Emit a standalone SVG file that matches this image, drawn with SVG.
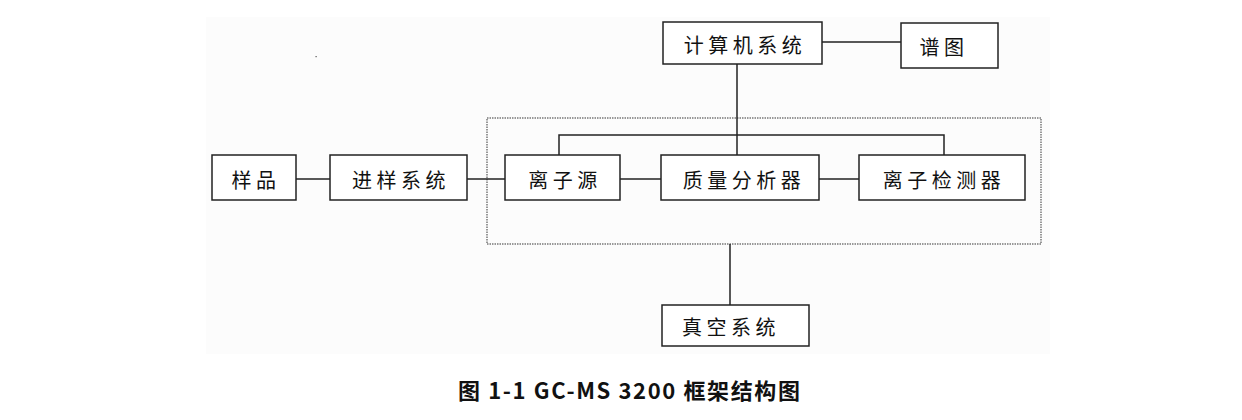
<svg xmlns="http://www.w3.org/2000/svg" width="1242" height="420" viewBox="0 0 1242 420">
<style>
.box{fill:#ffffff;stroke:#222;stroke-width:1.5}
.lbl{font-family:"Noto Sans CJK SC","Noto Sans",sans-serif;font-size:20px;fill:#111;text-anchor:middle;dominant-baseline:central;letter-spacing:4.5px}
.ln{stroke:#222;stroke-width:1.5;fill:none}
.cap{font-family:"Noto Sans CJK SC","DejaVu Sans",sans-serif;font-size:22px;font-weight:bold;fill:#111}
</style>
<rect x="0" y="0" width="1242" height="420" fill="#ffffff"/>
<rect x="206" y="17" width="844" height="337" fill="#fcfcfc"/>
<rect x="315.5" y="56" width="1.2" height="1.2" fill="#555"/>
<rect id="group-frame" x="487" y="118" width="554" height="126" fill="none" stroke="#777" stroke-width="1.5" stroke-dasharray="1.5 1"/>
<g id="connectors">
<line class="ln" x1="296" y1="179" x2="330" y2="179"/>
<line class="ln" x1="467" y1="179" x2="505" y2="179"/>
<line class="ln" x1="620" y1="179" x2="661" y2="179"/>
<line class="ln" x1="819" y1="179" x2="859" y2="179"/>
<line class="ln" x1="822" y1="42" x2="901" y2="42"/>
<line class="ln" x1="737" y1="64" x2="737" y2="155"/>
<polyline class="ln" points="559,155 559,135 944,135 944,155"/>
<line class="ln" x1="730" y1="244" x2="730" y2="305"/>
</g>
<g id="sample"><rect class="box" x="212" y="155" width="84" height="45"/><text class="lbl" x="256" y="179">样品</text></g>
<g id="injection"><rect class="box" x="330" y="155" width="137" height="45"/><text class="lbl" x="401" y="179">进样系统</text></g>
<g id="ion-source"><rect class="box" x="505" y="155" width="115" height="45"/><text class="lbl" x="565" y="179">离子源</text></g>
<g id="mass-analyzer"><rect class="box" x="661" y="155" width="158" height="45"/><text class="lbl" x="744" y="179">质量分析器</text></g>
<g id="ion-detector"><rect class="box" x="859" y="155" width="166" height="45"/><text class="lbl" x="944" y="179">离子检测器</text></g>
<g id="computer"><rect class="box" x="663" y="22" width="159" height="42"/><text class="lbl" x="745" y="44">计算机系统</text></g>
<g id="spectrum"><rect class="box" x="901" y="23" width="97" height="45"/><text class="lbl" x="944" y="46">谱图</text></g>
<g id="vacuum"><rect class="box" x="662" y="305" width="147" height="41"/><text class="lbl" x="731" y="326">真空系统</text></g>
<text class="cap" x="458" y="399" textLength="342" lengthAdjust="spacing">图 1-1 GC-MS 3200 框架结构图</text>
</svg>
